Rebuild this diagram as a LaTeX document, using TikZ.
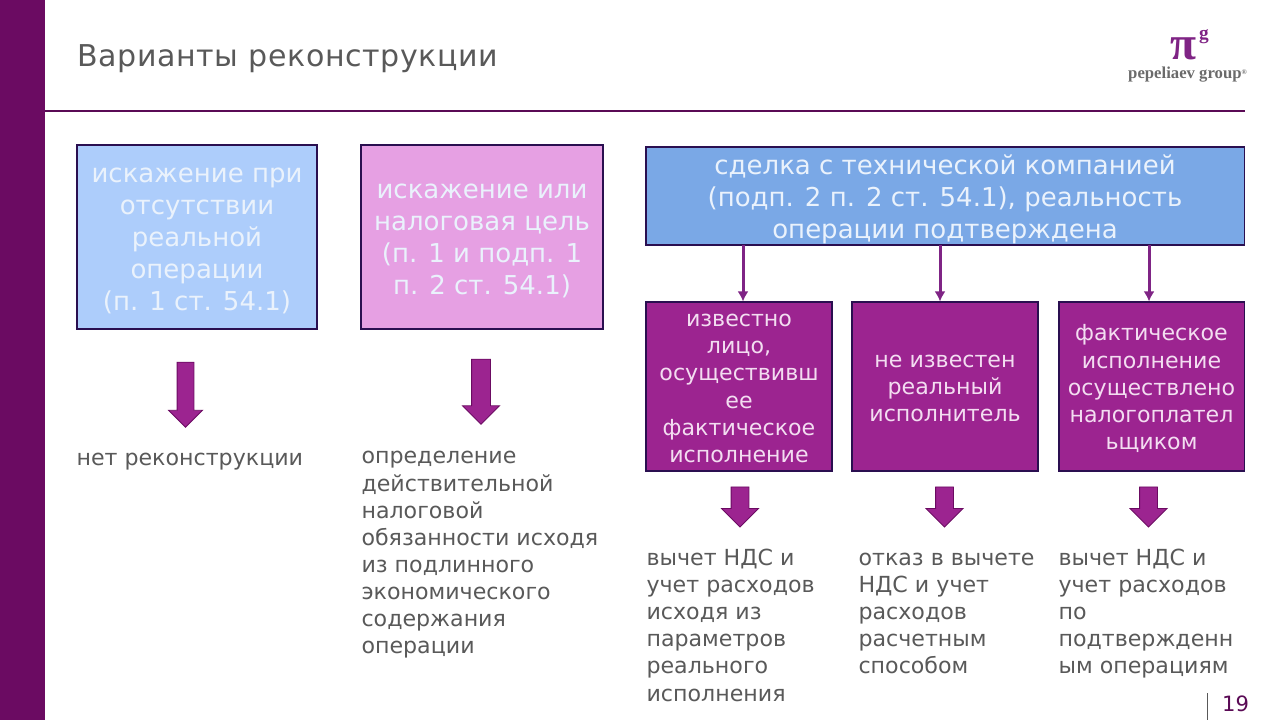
\documentclass[tikz,border=0pt]{standalone}
\usepackage{fontspec}
\setmainfont{DejaVu Sans}
\newfontfamily\logofont{Liberation Serif}
\usetikzlibrary{arrows.meta,shapes.arrows}
\definecolor{plum}{HTML}{6B0B62}
\definecolor{rulep}{HTML}{5A0A55}
\definecolor{vine}{HTML}{7F2485}
\definecolor{ink}{HTML}{595959}
\definecolor{icy}{HTML}{ADCDFB}
\definecolor{orchid}{HTML}{E6A0E3}
\definecolor{steel}{HTML}{7AA8E6}
\definecolor{grape}{HTML}{9C2490}
\definecolor{petal}{HTML}{F3DDF1}
\definecolor{frost}{HTML}{EAF2FC}
\definecolor{edge}{HTML}{2A0F50}
\newcommand{\lift}[1]{\rule{0pt}{#1pt}}

\begin{document}
\begin{tikzpicture}[
    line width=0.3pt,
    title/.style={font=\fontsize{8.55}{11}\selectfont, text=ink, anchor=west, inner sep=0pt},
    lab/.style={font=\fontsize{6.3}{7.72}\selectfont, text=ink, anchor=north west, align=left, inner sep=0pt},
    upper/.style={draw=edge, font=\fontsize{7.4}{9.1}\selectfont, text=frost, align=center, inner sep=0pt},
    lower/.style={draw=edge, fill=grape, minimum width=1.86cm, minimum height=1.69cm, inner sep=0pt,
      font=\fontsize{6.3}{7.75}\selectfont, text=petal, align=center},
    drop/.style={draw=plum, fill=grape, line width=0.25pt, single arrow, shape border rotate=270,
      single arrow tip angle=90, single arrow head indent=0pt},
    big drop/.style={drop, minimum height=0.65cm, inner sep=0.08cm, single arrow head extend=0.085cm},
    small drop/.style={drop, minimum height=0.40cm, inner sep=0.085cm, single arrow head extend=0.095cm},
    link/.style={draw=vine, line width=0.85pt, -{Latex[length=1mm,width=1.1mm]}}]
  % 1280 x 720 canvas, 1 px = 0.01 cm
  \path[use as bounding box] (0,0) rectangle (12.8,7.2);

  % ================= frame =================
  \fill[plum] (0,0) rectangle (0.45,7.2);
  \draw[rulep, line width=0.7pt] (0.45,6.09) -- (12.45,6.09);
  \node[title] (head) at (0.77,6.61) {\addfontfeature{LetterSpace=2}Варианты реконструкции};

  % logo
  \node[font=\logofont\fontsize{13.5}{13.5}\selectfont\bfseries, text=vine, inner sep=0pt] (pi) at (11.83,6.71) {π};
  \node[font=\logofont\fontsize{5.5}{5.5}\selectfont\bfseries, text=vine, inner sep=0pt] (pig) at (12.04,6.83) {g};
  \node[font=\logofont\fontsize{4.75}{5}\selectfont\bfseries, text=ink!90, inner sep=0pt] (brand) at (11.875,6.45)
    {pepeliaev group\raisebox{1.2pt}{\fontsize{2}{2}\selectfont®}};

  % ================= left columns =================
  \node[upper, fill=icy, minimum width=2.4cm, minimum height=1.84cm] (plain) at (1.97,4.83)
    {\lift{6.33}искажение при\\отсутствии\\реальной\\операции\\(п. 1 ст. 54.1)};
  \node[upper, fill=orchid, minimum width=2.42cm, minimum height=1.84cm] (goal) at (4.82,4.83)
    {\lift{6.33}искажение или\\налоговая цель\\(п. 1 и подп. 1\\п. 2 ст. 54.1)};
  \node[big drop] (dropa) at (1.855,3.295) {};
  \node[big drop, inner sep=0.09cm, single arrow head extend=0.09cm] (dropb) at (4.81,3.33) {};
  \node[lab] (none) at (0.76,2.67) {нет реконструкции};
  \node[lab] (real) at (3.61,2.69) {определение\\действительной\\налоговой\\обязанности исходя\\из подлинного\\экономического\\содержания\\операции};

  % ================= right column =================
  \node[upper, fill=steel, minimum width=5.98cm, minimum height=0.98cm] (deal) at (9.45,5.24)
    {\lift{7.8}сделка с технической компанией\\(подп. 2 п. 2 ст. 54.1), реальность\\операции подтверждена};
  \node[lower] (known) at (7.39,3.335) {\lift{4.6}известно\\лицо,\\осуществивш\\ее\\фактическое\\исполнение};
  \node[lower] (unknown) at (9.45,3.335) {\lift{4.6}не известен\\реальный\\исполнитель};
  \node[lower, minimum width=1.85cm] (self) at (11.515,3.335) {\lift{5.9}фактическое\\исполнение\\осуществлено\\налогоплател\\ьщиком};

  % links start off centre on the upper box
  \coordinate (linka) at (7.43,4.75);
  \coordinate (linkb) at (9.40,4.75);
  \coordinate (linkc) at (11.49,4.75);
  \draw[link] (linka) -- (linka |- known.north);
  \draw[link] (linkb) -- (linkb |- unknown.north);
  \draw[link] (linkc) -- (linkc |- self.north);

  \node[small drop] (dropc) at (7.40,2.175) {};
  \node[small drop] (dropd) at (9.445,2.175) {};
  \node[small drop] (drope) at (11.485,2.175) {};
  \node[lab] (vata) at (6.46,1.715) {вычет НДС и\\учет расходов\\исходя из\\параметров\\реального\\исполнения};
  \node[lab] (vatb) at (8.58,1.675) {отказ в вычете\\НДС и учет\\расходов\\расчетным\\способом};
  \node[lab] (vatc) at (10.58,1.715) {вычет НДС и\\учет расходов\\по\\подтвержденн\\ым операциям};

  % ================= page number =================
  \draw[ink, line width=0.3pt] (12.07,0) -- (12.07,0.27);
  \node[font=\fontsize{6}{7}\selectfont, text=rulep, inner sep=0pt] (page) at (12.355,0.16) {19};
\end{tikzpicture}
\end{document}
